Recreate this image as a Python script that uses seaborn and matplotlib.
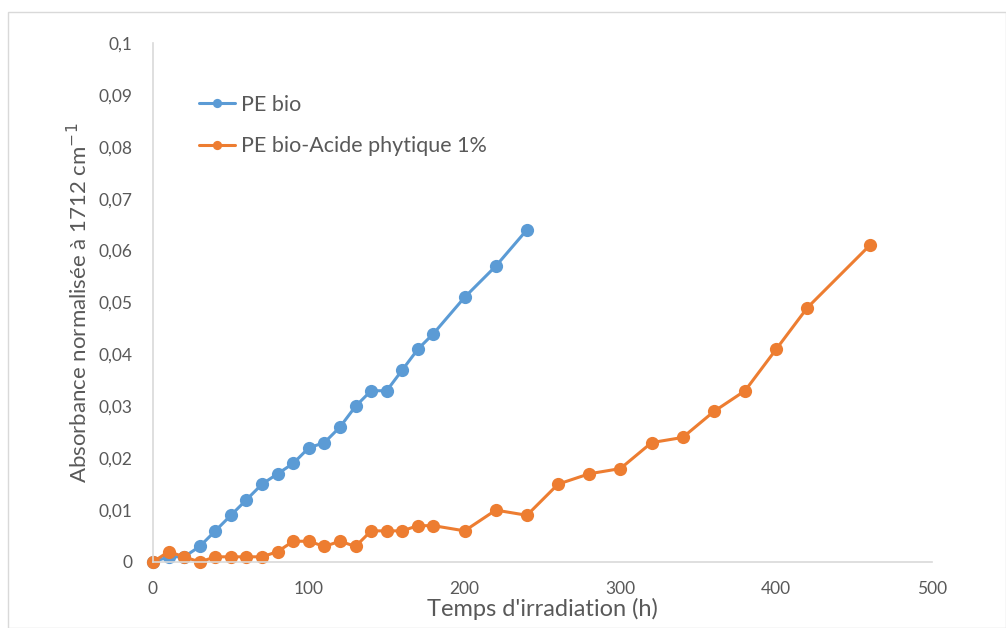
import numpy as np
import pandas as pd
import matplotlib
matplotlib.use("Agg")
import matplotlib.pyplot as plt
import seaborn as sns
from matplotlib.patches import Rectangle

# Data
t_bio = [0, 10, 20, 30, 40, 50, 60, 70, 80, 90, 100, 110, 120, 130, 140, 150, 160, 170, 180, 200, 220, 240]
a_bio = [0, 0.001, 0.001, 0.003, 0.006, 0.009, 0.012, 0.015, 0.017, 0.019, 0.022, 0.023, 0.026, 0.030,
         0.033, 0.033, 0.037, 0.041, 0.044, 0.051, 0.057, 0.064]
t_acide = [0, 10, 20, 30, 40, 50, 60, 70, 80, 90, 100, 110, 120, 130, 140, 150, 160, 170, 180, 200,
           220, 240, 260, 280, 300, 320, 340, 360, 380, 400, 420, 460]
a_acide = [0, 0.002, 0.001, 0, 0.001, 0.001, 0.001, 0.001, 0.002, 0.004, 0.004, 0.003, 0.004, 0.003,
           0.006, 0.006, 0.006, 0.007, 0.007, 0.006, 0.010, 0.009, 0.015, 0.017, 0.018, 0.023, 0.024,
           0.029, 0.033, 0.041, 0.049, 0.061]
series_names = ["PE bio", "PE bio-Acide phytique 1%"]
x_ticks = [0, 100, 200, 300, 400, 500]
y_ticks = [0, 0.01, 0.02, 0.03, 0.04, 0.05, 0.06, 0.07, 0.08, 0.09, 0.1]

df = pd.concat([
    pd.DataFrame({"t": t_bio, "a": a_bio, "serie": series_names[0]}),
    pd.DataFrame({"t": t_acide, "a": a_acide, "serie": series_names[1]}),
], ignore_index=True)

sns.set_theme(style="white")
plt.rcParams['font.family'] = ['Lato', 'DejaVu Sans']

grey = "#595959"
fig = plt.figure(figsize=(10.06, 6.28), dpi=100)
fig.patches.append(Rectangle((8/1006, 0), 1 - 8/1006, 1 - 12/628, transform=fig.transFigure,
                             fill=False, edgecolor="#D9D9D9", linewidth=1.0))
ax = fig.add_axes([153/1006, 1 - 562/628, (932-153)/1006, (562-43)/628])

palette = {series_names[0]: "#5B9BD5", series_names[1]: "#ED7D31"}
sns.lineplot(data=df, x="t", y="a", hue="serie", palette=palette, marker="o", markersize=9.5,
             markeredgewidth=0, linewidth=2.2, ax=ax, sort=False, estimator=None)

ax.set_xlim(0, 500)
ax.set_ylim(0, 0.1)
ax.set_xticks(x_ticks)
ax.set_yticks(y_ticks)
ax.set_xticklabels([str(v) for v in x_ticks])
ax.set_yticklabels([("%g" % v).replace(".", ",") for v in y_ticks])
ax.tick_params(axis="both", length=0, labelsize=12.5, colors=grey)
ax.tick_params(axis="y", pad=15)
ax.tick_params(axis="x", pad=14)
for s in ["top", "right"]:
    ax.spines[s].set_visible(False)
for s in ["left", "bottom"]:
    ax.spines[s].set_color("#D9D9D9")
    ax.spines[s].set_linewidth(1.2)
ax.set_xlabel("Temps d'irradiation (h)", fontsize=17, color=grey, labelpad=0)
ax.set_ylabel("Absorbance normalisée à 1712 cm$^{-1}$", fontsize=16, color=grey, labelpad=5)
for line in ax.lines:
    line.set_clip_on(False)

leg = ax.legend(loc="upper left", bbox_to_anchor=(188/1006, 1 - 84/628), bbox_transform=fig.transFigure,
                frameon=False, fontsize=15.5, labelspacing=1.0, handlelength=1.7, handletextpad=0.25,
                markerscale=0.7, borderpad=0)
for txt in leg.get_texts():
    txt.set_color(grey)

fig.savefig("out.png", dpi=100)
